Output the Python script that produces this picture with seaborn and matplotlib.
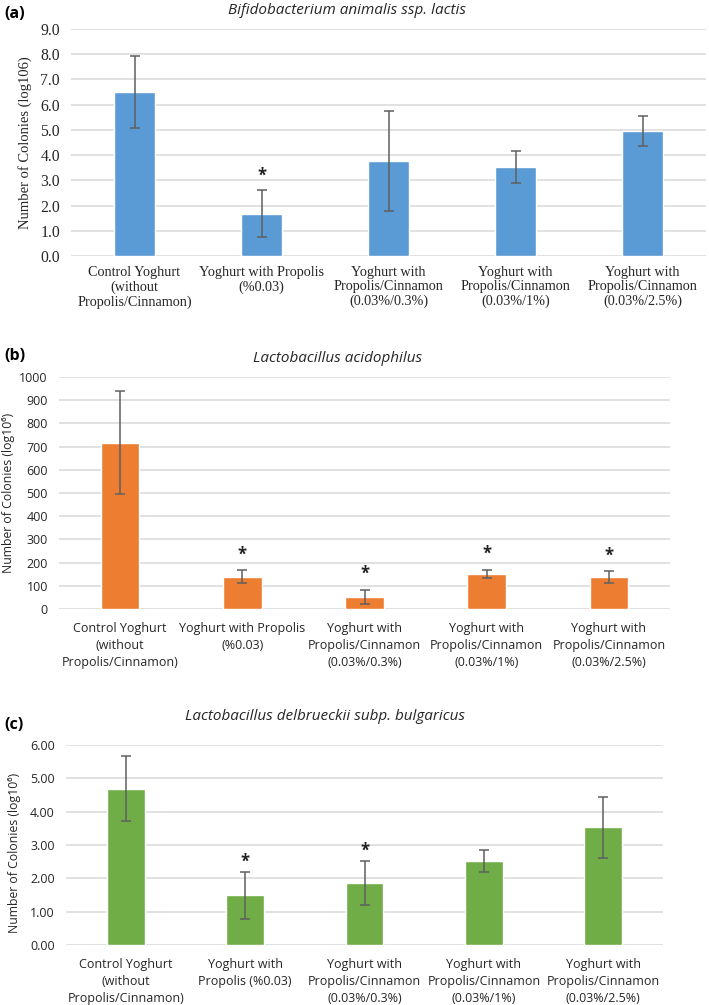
import matplotlib
matplotlib.use("Agg")
import matplotlib.pyplot as plt
import seaborn as sns
import pandas as pd

sns.set_theme(style="white")
plt.rcParams['font.family'] = ['Open Sans', 'DejaVu Sans']

# ---- data ----
labels_a = ["Control Yoghurt\n(without\nPropolis/Cinnamon)",
            "Yoghurt with Propolis\n(%0.03)",
            "Yoghurt with\nPropolis/Cinnamon\n(0.03%/0.3%)",
            "Yoghurt with\nPropolis/Cinnamon\n(0.03%/1%)",
            "Yoghurt with\nPropolis/Cinnamon\n(0.03%/2.5%)"]
labels_c = ["Control Yoghurt\n(without\nPropolis/Cinnamon)",
            "Yoghurt with\nPropolis (%0.03)",
            "Yoghurt with\nPropolis/Cinnamon\n(0.03%/0.3%)",
            "Yoghurt with\nPropolis/Cinnamon\n(0.03%/1%)",
            "Yoghurt with\nPropolis/Cinnamon\n(0.03%/2.5%)"]

bifido_mean = [6.49, 1.68, 3.78, 3.53, 4.96]
bifido_err = [1.43, 0.93, 1.98, 0.65, 0.59]
bifido_sig = [False, True, False, False, False]

acido_mean = [716, 138, 52, 151, 138]
acido_err = [222, 28, 32, 19, 25]
acido_sig = [False, True, True, True, True]

bulg_mean = [4.69, 1.49, 1.86, 2.52, 3.53]
bulg_err = [0.98, 0.71, 0.66, 0.34, 0.91]
bulg_sig = [False, True, True, False, False]

W, H = 709, 1005
fig = plt.figure(figsize=(W / 100, H / 100), dpi=100)

serif = ["Liberation Serif", "DejaVu Serif"]
sans = ["Open Sans", "DejaVu Sans"]


def px_axes(left, right, top, bottom):
    return fig.add_axes([left / W, 1 - bottom / H, (right - left) / W, (bottom - top) / H])


def panel(ax, labels, mean, err, sig, color, ymax, step, fmt, font, ylabel,
          star_off, xsize, ysize, lsp, xpad):
    df = pd.DataFrame({"group": labels, "value": mean})
    sns.barplot(data=df, x="group", y="value", color=color, width=0.315,
                errorbar=None, saturation=1, ax=ax, zorder=3)
    ax.errorbar(range(len(mean)), mean, yerr=err, fmt="none", ecolor="#5f5f5f",
                elinewidth=1.1, capsize=3.5, capthick=1.1, zorder=4)
    for i, s in enumerate(sig):
        if s:
            ax.annotate("*", xy=(i, mean[i] + err[i]), xytext=(0, star_off),
                        textcoords="offset points", ha="center", va="bottom",
                        fontsize=12, fontweight="bold", family=sans, color="#222222")
    ax.set_ylim(0, ymax)
    ax.set_xlim(-0.5, len(mean) - 0.5)
    ticks = [i * step for i in range(int(round(ymax / step)) + 1)]
    ax.set_yticks(ticks)
    ax.set_yticklabels([fmt.format(t) for t in ticks], family=font, fontsize=ysize)
    ax.set_xticklabels(labels, family=font, fontsize=xsize, linespacing=lsp)
    ax.grid(axis="y", color="#d9d9d9", linewidth=1.1, zorder=0)
    ax.set_axisbelow(True)
    for sp in ax.spines.values():
        sp.set_visible(False)
    ax.tick_params(axis="both", length=0, colors="#262626")
    ax.tick_params(axis="x", pad=xpad)
    ax.tick_params(axis="y", pad=8)
    ax.set_xlabel("")
    ax.set_ylabel(ylabel, family=font, color="#262626")


# (a)
ax_a = px_axes(71, 706, 29, 256)
panel(ax_a, labels_a, bifido_mean, bifido_err, bifido_sig, "#5b9bd5", 9.0, 1.0,
      "{:.1f}", serif, "Number of Colonies (log106)", 4, 10.2, 11.3, 1.15, 7)
ax_a.yaxis.label.set_fontsize(10.5)
ax_a.yaxis.set_label_coords(-0.061, 0.5)

# (b)
ax_b = px_axes(59, 670, 377, 609)
panel(ax_b, labels_a, acido_mean, acido_err, acido_sig, "#ed7d31", 1000, 100,
      "{:.0f}", sans, "Number of Colonies (log10\u2076)", 5, 9.0, 9.0, 1.4, 9)
ax_b.yaxis.label.set_fontsize(8.8)
ax_b.yaxis.set_label_coords(-0.072, 0.5)

# (c)
ax_c = px_axes(66, 663, 745, 945)
panel(ax_c, labels_c, bulg_mean, bulg_err, bulg_sig, "#70ad47", 6.0, 1.0,
      "{:.2f}", sans, "Number of Colonies (log10\u2076)", 1, 9.0, 9.0, 1.4, 9)
ax_c.yaxis.label.set_fontsize(8.8)
ax_c.yaxis.set_label_coords(-0.076, 0.46)

# titles and panel letters
titles = ["Bifidobacterium animalis ssp. lactis", "Lactobacillus acidophilus",
          "Lactobacillus delbrueckii subp. bulgaricus"]
title_xy = [(347, 10), (338, 358), (325, 716)]
letters = ["(a)", "(b)", "(c)"]
letter_xy = [(4, 14), (4, 356), (4, 725)]
for t, (x, y) in zip(titles, title_xy):
    fig.text(x / W, 1 - y / H, t, ha="center", va="center", fontsize=11,
             style="italic", family=sans, color="#262626")
for t, (x, y) in zip(letters, letter_xy):
    fig.text(x / W, 1 - y / H, t, ha="left", va="center", fontsize=11.5,
             fontweight="bold", family=sans, color="black")

fig.savefig("out.png", dpi=100)
